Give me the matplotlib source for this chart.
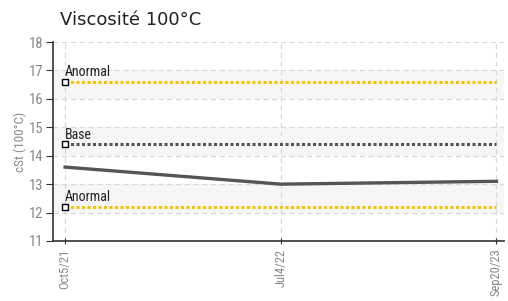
import matplotlib
matplotlib.use("Agg")
import matplotlib.pyplot as plt

categories = ["Oct5/21", "Jul4/22", "Sep20/23"]
values = [13.6, 13.0, 13.1]
limit_high = 16.6
limit_base = 14.4
limit_low = 12.2
limit_labels = ["Anormal", "Base", "Anormal"]

plt.rcParams['font.family'] = ['Roboto Condensed', 'DejaVu Sans']

fig = plt.figure(figsize=(5.08, 3.01), dpi=100)
ax = fig.add_axes([53/508, 1-241/301, (504-53)/508, (241-42)/301])

x = list(range(len(categories)))
ax.set_xlim(-0.056, 2.035)
ax.set_ylim(11, 18)

# alternating bands
for lo in (12, 14, 16):
    ax.axhspan(lo, lo+1, color="#f6f6f6", zorder=0, lw=0)

for y in range(11, 19):
    ax.axhline(y, color="#d8d8d8", lw=0.9, ls=(0, (4, 3)), zorder=1)
for xi in x:
    ax.axvline(xi, color="#d8d8d8", lw=0.9, ls=(0, (4, 3)), zorder=1)

colors = ["#f5c400", "#555555", "#f5c400"]
for val, lab, c in zip([limit_high, limit_base, limit_low], limit_labels, colors):
    ax.plot([x[0], x[-1]], [val, val], color=c, lw=2.2, ls=(0, (1, 0.8)), zorder=3)
    ax.plot([x[0]], [val], marker="s", ms=4, mfc="white", mec="black", mew=1, zorder=5)
    ax.text(x[0], val + 0.1, lab, fontsize=10, color="#222222", ha="left", va="bottom", zorder=6)

ax.plot(x, values, color="#555555", lw=2.4, zorder=4)

ax.set_xticks(x)
ax.set_xticklabels(categories, rotation=90, color="#888888", fontsize=9)
ax.set_yticks(range(11, 19))
ax.set_yticklabels([str(v) for v in range(11, 19)], color="#888888", fontsize=10.5)
ax.set_ylabel("cSt (100°C)", color="#888888", fontsize=9.5, labelpad=1)

for s in ("top", "right"):
    ax.spines[s].set_visible(False)
ax.spines["left"].set_color("#333333")
ax.spines["bottom"].set_color("#333333")
ax.spines["left"].set_linewidth(1.2)
ax.spines["bottom"].set_linewidth(1.2)
ax.tick_params(axis="y", length=5, color="#333333", pad=2)
ax.tick_params(axis="x", length=5, color="#333333", direction="inout", pad=3)

fig.text(60/508, 1-20/301, "Viscosité 100°C", fontsize=13, color="#222222",
         ha="left", va="center", family=["DejaVu Sans"])

fig.savefig("out.png", dpi=100)
